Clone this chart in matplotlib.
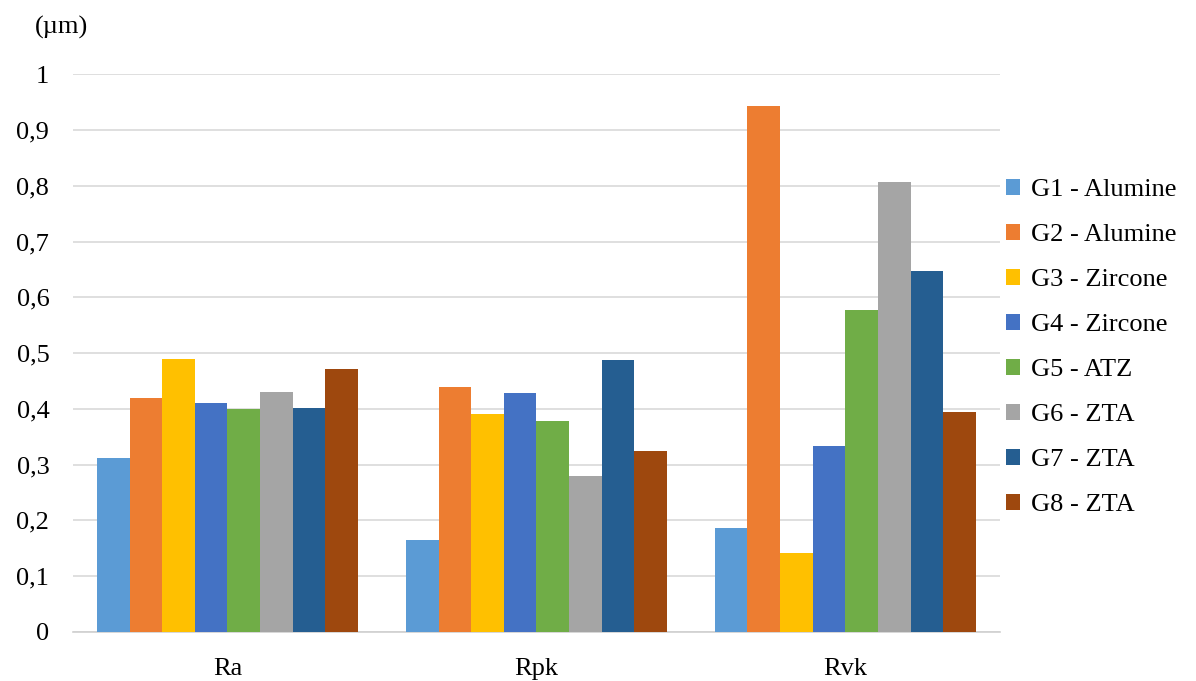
import numpy as np
import matplotlib.pyplot as plt

# Data
categories = ['Ra', 'Rpk', 'Rvk']
groups = ['G1 - Alumine', 'G2 - Alumine', 'G3 - Zircone', 'G4 - Zircone',
          'G5 - ATZ', 'G6 - ZTA', 'G7 - ZTA', 'G8 - ZTA']
g1 = [0.312, 0.164, 0.186]
g2 = [0.419, 0.440, 0.943]
g3 = [0.490, 0.391, 0.142]
g4 = [0.411, 0.428, 0.334]
g5 = [0.399, 0.379, 0.578]
g6 = [0.431, 0.280, 0.806]
g7 = [0.401, 0.487, 0.647]
g8 = [0.472, 0.324, 0.395]
series = [g1, g2, g3, g4, g5, g6, g7, g8]
colors = ['#5B9BD5', '#ED7D31', '#FFC000', '#4472C4',
          '#70AD47', '#A5A5A5', '#255E91', '#9E480E']
yticks = [0, 0.1, 0.2, 0.3, 0.4, 0.5, 0.6, 0.7, 0.8, 0.9, 1]

plt.rcParams['font.family'] = ['Liberation Serif', 'DejaVu Serif']

fig = plt.figure(figsize=(11.96, 6.81), dpi=100)
ax = fig.add_axes([0.061, 0.072, 0.775, 0.819])

x = np.arange(len(categories))
span = 0.845
w = span / len(series)
for i, (vals, name, c) in enumerate(zip(series, groups, colors)):
    pos = x - span / 2 + w * (i + 0.5)
    ax.bar(pos, vals, width=w, color=c, label=name, zorder=3)

ax.set_xlim(-0.5, 2.5)
ax.set_ylim(0, 1)
ax.set_yticks(yticks)
ax.set_yticklabels([('%g' % t).replace('.', ',') for t in yticks])
ax.set_xticks(x)
ax.set_xticklabels(categories)
ax.tick_params(axis='y', length=0, labelsize=19, pad=17)
ax.tick_params(axis='x', length=0, labelsize=19, pad=19)
ax.grid(axis='y', color='#D9D9D9', linewidth=1.2, zorder=0)
for s in ['top', 'right', 'left']:
    ax.spines[s].set_visible(False)
ax.spines['bottom'].set_color('#D0D0D0')
ax.spines['bottom'].set_linewidth(1.2)

fig.text(0.029, 0.960, '(µm)', fontsize=19, va='center', ha='left')

ax.legend(loc='center left', bbox_to_anchor=(0.995, 0.51), frameon=False,
          fontsize=19, handlelength=0.55, handleheight=0.55, handletextpad=0.4,
          labelspacing=0.86, borderaxespad=0.0)

fig.savefig('out.png', dpi=100)
